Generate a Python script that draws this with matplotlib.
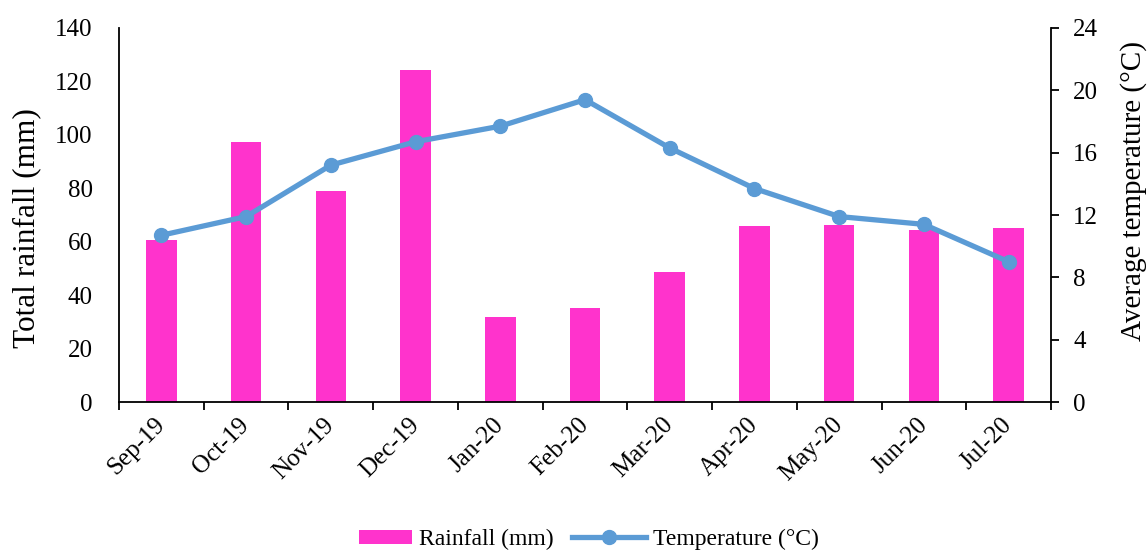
import numpy as np
import matplotlib.pyplot as plt
from matplotlib.patches import Rectangle
from matplotlib.legend_handler import HandlerPatch

plt.rcParams['font.family'] = ['Liberation Serif', 'DejaVu Serif']

months = ['Sep-19', 'Oct-19', 'Nov-19', 'Dec-19', 'Jan-20', 'Feb-20',
          'Mar-20', 'Apr-20', 'May-20', 'Jun-20', 'Jul-20']
rainfall = [60.5, 97.5, 78.9, 124.4, 31.7, 35.2, 48.7, 65.8, 66.1, 64.4, 65.0]
temperature = [10.7, 11.9, 15.2, 16.7, 17.7, 19.4, 16.3, 13.7, 11.9, 11.4, 9.0]


def short_patch(legend, orig_handle, xdescent, ydescent, width, height, fontsize):
    # narrower swatch than the line handle
    w = width * 0.72
    return Rectangle((-xdescent + (width - w), -ydescent), w, height)


fig = plt.figure(figsize=(11.48, 5.52), dpi=100)
ax = fig.add_axes([0.1037, 0.2717, 0.8118, 0.6776])
ax2 = ax.twinx()

x = np.arange(len(months))

# rainfall bars on the left axis
bars = ax.bar(x, rainfall, width=0.36, color='#FF33CC', label='Rainfall (mm)', zorder=2)
ax.set_ylim(0, 140)
ax.set_yticks(np.arange(0, 141, 20))
ax.set_xlim(-0.5, len(months) - 0.5)
ax.set_ylabel('Total rainfall (mm)', fontsize=22.5)
ax.yaxis.set_label_coords(-0.083, 0.464)

# month ticks sit between the bars, labels centred under each bar
ax.set_xticks(np.arange(-0.5, len(months)), minor=False)
ax.set_xticklabels([])
ax.set_xticks(x, minor=True)
ax.set_xticklabels(months, minor=True, rotation=45, ha='right', va='center',
                   rotation_mode='anchor', fontsize=18)
ax.tick_params(axis='x', which='minor', length=0, pad=14)
ax.tick_params(axis='x', which='major', direction='out', length=6, width=1.3)
ax.tick_params(axis='y', length=0, pad=19, labelsize=18)

# temperature line on the right axis
line, = ax2.plot(x, temperature, color='#5B9BD5', lw=3.8, marker='o', markersize=10,
                 label='Temperature (°C)', zorder=3)
ax2.set_ylim(0, 24)
ax2.set_yticks(np.arange(0, 25, 4))
ax2.set_ylabel('Average temperature (°C)', fontsize=21)
ax2.yaxis.set_label_coords(1.074, 0.564)
ax2.tick_params(axis='y', direction='out', length=6, width=1.3, pad=10, labelsize=18)

for a in (ax, ax2):
    a.spines['top'].set_visible(False)
    for s in ('left', 'right', 'bottom'):
        a.spines[s].set_linewidth(1.3)
ax.spines['right'].set_visible(False)
ax2.spines['left'].set_visible(False)
ax2.spines['bottom'].set_visible(False)

fig.legend([bars.patches[0], line], ['Rainfall (mm)', 'Temperature (°C)'],
           loc='lower center', bbox_to_anchor=(0.504, -0.035), ncol=2, frameon=False,
           fontsize=17, handlelength=3.1, handleheight=0.55, columnspacing=0.8,
           handletextpad=0.3,
           handler_map={Rectangle: HandlerPatch(patch_func=short_patch)})

fig.savefig('out.png', dpi=100)
